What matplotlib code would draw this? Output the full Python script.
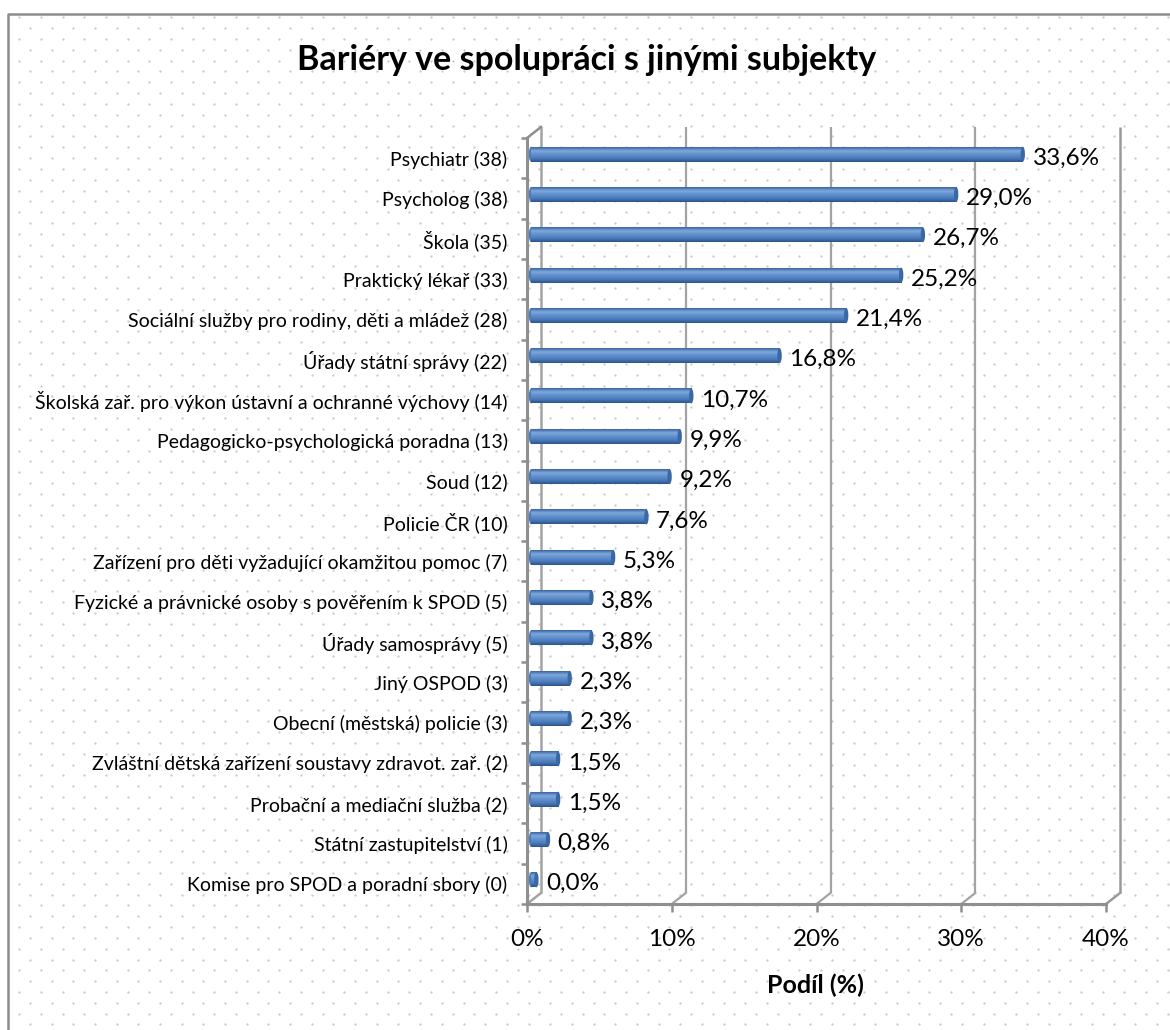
import numpy as np
import matplotlib
matplotlib.use("Agg")
import matplotlib.pyplot as plt
from matplotlib.patches import Ellipse
from matplotlib.transforms import ScaledTranslation
from matplotlib.colors import LinearSegmentedColormap

plt.rcParams['font.family'] = ['Lato', 'DejaVu Sans']

# data
title = "Bariéry ve spolupráci s jinými subjekty"
xlabel = "Podíl (%)"
categories = [
    "Psychiatr (38)",
    "Psycholog (38)",
    "Škola (35)",
    "Praktický lékař (33)",
    "Sociální služby pro rodiny, děti a mládež (28)",
    "Úřady státní správy (22)",
    "Školská zař. pro výkon ústavní a ochranné výchovy (14)",
    "Pedagogicko-psychologická poradna (13)",
    "Soud (12)",
    "Policie ČR (10)",
    "Zařízení pro děti vyžadující okamžitou pomoc (7)",
    "Fyzické a právnické osoby s pověřením k SPOD (5)",
    "Úřady samosprávy (5)",
    "Jiný OSPOD (3)",
    "Obecní (městská) policie (3)",
    "Zvláštní dětská zařízení soustavy zdravot. zař. (2)",
    "Probační a mediační služba (2)",
    "Státní zastupitelství (1)",
    "Komise pro SPOD a poradní sbory (0)",
]
values = [33.6, 29.0, 26.7, 25.2, 21.4, 16.8, 10.7, 9.9, 9.2, 7.6,
          5.3, 3.8, 3.8, 2.3, 2.3, 1.5, 1.5, 0.8, 0.0]
xticks = [0, 10, 20, 30, 40]

W, H = 1170, 1030
fig = plt.figure(figsize=(W / 100, H / 100), dpi=100)
fig.patch.set_facecolor('white')

# dotted background + frame (pixel coordinates)
bg = fig.add_axes([0, 0, 1, 1], zorder=-5)
bg.set_xlim(0, W)
bg.set_ylim(H, 0)
bg.axis('off')
dx, dy = 21.67, 10.83
pts_x, pts_y = [], []
for k, yy in enumerate(np.arange(17.3, H, dy)):
    start = 19.3 if k % 2 == 0 else 30.1
    for xx in np.arange(start, W, dx):
        pts_x.append(xx)
        pts_y.append(yy)
bg.plot(pts_x, pts_y, 'o', ms=1.7, mec='none', mfc='#cdcdcd')
bg.plot([8, 8, W], [H, 14, 14], color='#8c8c8c', lw=1.8, solid_capstyle='butt')

# main axes = front plane of the 3D chart
left, right, top, bottom = 527, 1106, 138, 904
ax = fig.add_axes([left / W, 1 - bottom / H, (right - left) / W, (bottom - top) / H])
ax.set_facecolor('none')
n = len(categories)
ypos = np.arange(n)
ax.set_xlim(0, 40)
ax.set_ylim(n - 0.5, -0.5)

gcol = '#8f8f8f'
back = ax.transData + ScaledTranslation(14 / 100, 11 / 100, fig.dpi_scale_trans)
inv = ax.transData.inverted()
for t in xticks:
    lw = 1.6 if t not in (0, 40) else 1.8
    col = '#a3a3a3' if t != 40 else '#9a9a9a'
    ax.plot([t, t], [-0.5, n - 0.5], transform=back, color=col, lw=lw, zorder=1,
            clip_on=False, solid_capstyle='butt')
    # diagonal from back wall to front floor
    a = inv.transform(back.transform((t, n - 0.5)))
    ax.plot([a[0], t], [a[1], n - 0.5], color=col, lw=lw, zorder=1, clip_on=False)
# top diagonal of left wall
a = inv.transform(back.transform((0, -0.5)))
ax.plot([0, a[0]], [-0.5, a[1]], color=gcol, lw=1.8, zorder=1, clip_on=False)

for s in ['top', 'right']:
    ax.spines[s].set_visible(False)
for s in ['left', 'bottom']:
    ax.spines[s].set_color(gcol)
    ax.spines[s].set_linewidth(2.2)

# bars with a cylinder-like gradient
cmap = LinearSegmentedColormap.from_list(
    'bar3d', ['#3865a0', '#7fa8dc', '#5f8fcc', '#4a7aba', '#2b548a'])
grad = np.linspace(0, 1, 64).reshape(-1, 1)
bh = 0.37
x0 = 0.28
shift = 0.65
for i, v in zip(ypos, values):
    yc = i - 0.1
    x1 = v + shift
    ax.imshow(grad, cmap=cmap, aspect='auto', origin='upper',
              extent=(x0, x1, yc + bh / 2, yc - bh / 2), zorder=3,
              interpolation='bilinear')
    ax.add_patch(Ellipse((x1, yc), 0.3, bh, facecolor='#3a68a4',
                         edgecolor='none', zorder=4))
    ax.add_patch(Ellipse((x0, yc), 0.3, bh, facecolor='#4a7bbb',
                         edgecolor='none', zorder=2.9))
    lbl = f"{v:.1f}".replace('.', ',') + '%'
    ax.annotate(lbl, xy=(x1, i), xytext=(7, 0), textcoords='offset points',
                ha='left', va='center', fontsize=17.5, color='black', zorder=5)
ax.set_xlim(0, 40)
ax.set_ylim(n - 0.5, -0.5)

ax.set_yticks(ypos)
ax.set_yticklabels(categories, fontsize=14)
ax.set_yticks(np.arange(n + 1) - 0.5, minor=True)
ax.tick_params(axis='y', which='major', length=0, pad=14)
ax.tick_params(axis='y', which='minor', length=4, width=1.8, color=gcol)
ax.set_xticks(xticks)
ax.set_xticklabels([f"{t}%" for t in xticks], fontsize=17.5)
ax.tick_params(axis='x', length=6, width=1.8, color=gcol, pad=12)

fig.text(587 / W, 1 - 60 / H, title, ha='center', va='center',
         fontsize=24.5, fontweight='bold')
fig.text(815 / W, 1 - 985 / H, xlabel, ha='center', va='center',
         fontsize=18, fontweight='bold')

fig.savefig('out.png', dpi=100)
